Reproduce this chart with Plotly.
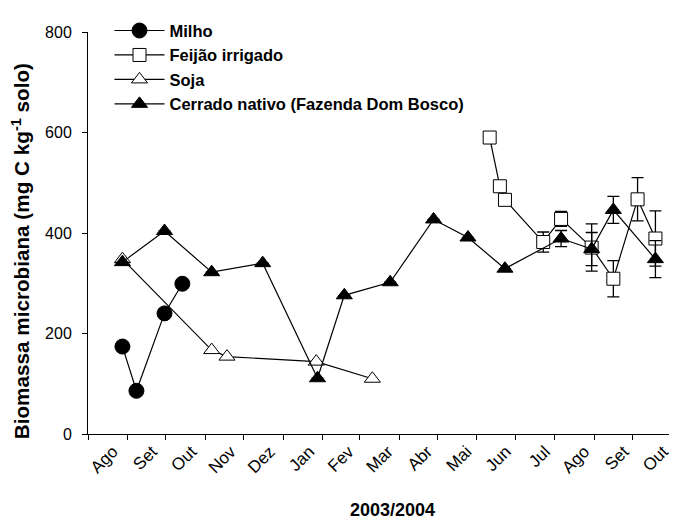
import plotly.graph_objects as go
import pandas as pd

# ---- data ----
milho_dates = ["2003-08-28", "2003-09-08", "2003-09-30", "2003-10-14"]
milho_vals = [174, 86, 240, 299]

feijao_dates = ["2004-06-11", "2004-06-19", "2004-06-23", "2004-07-23", "2004-08-06",
                "2004-08-30", "2004-09-16", "2004-10-05", "2004-10-19"]
feijao_vals = [590, 493, 466, 382, 428, 371, 309, 467, 389]
feijao_err = [None, None, None, 20, 15, 47, 36, 43, 55]

soja_dates = ["2003-08-28", "2003-11-06", "2003-11-18", "2004-01-27", "2004-03-11"]
soja_vals = [348, 167, 154, 144, 110]

cerrado_dates = ["2003-08-28", "2003-09-30", "2003-11-06", "2003-12-16", "2004-01-28",
                 "2004-02-18", "2004-03-25", "2004-04-28", "2004-05-25", "2004-06-23",
                 "2004-08-06", "2004-08-30", "2004-09-16", "2004-10-19"]
cerrado_vals = [342, 404, 322, 340, 111, 276, 302, 427, 391, 329, 389, 368, 446, 348]
cerrado_err = [None, None, None, None, None, None, None, None, None, None, 16, 33, 27, 37]

month_labels = ["Ago", "Set", "Out", "Nov", "Dez", "Jan", "Fev", "Mar", "Abr",
                "Mai", "Jun", "Jul", "Ago", "Set", "Out"]
y_ticks = [0, 200, 400, 600, 800]

# ---- axis helpers ----
month_starts = pd.date_range("2003-08-01", periods=len(month_labels) + 1, freq="MS")
# month labels are evenly spaced, slightly right of each month's middle
label_pos = list(pd.date_range(month_starts[0] + pd.Timedelta(days=19.5),
                               month_starts[-2] + pd.Timedelta(days=24),
                               periods=len(month_labels)))

FONT = "Liberation Sans, Arial, sans-serif"
line = dict(color="black", width=1.2)
err_style = dict(type="data", visible=True, color="black", thickness=1.3, width=6)

fig = go.Figure()
fig.add_trace(go.Scatter(
    x=milho_dates, y=milho_vals, name="Milho", mode="lines+markers", line=line,
    marker=dict(symbol="circle", size=15, color="black", line=dict(color="black", width=1))))
fig.add_trace(go.Scatter(
    x=feijao_dates, y=feijao_vals, name="Feijão irrigado", mode="lines+markers", line=line,
    error_y=dict(array=feijao_err, **err_style),
    marker=dict(symbol="square", size=13, color="white", line=dict(color="black", width=1))))
fig.add_trace(go.Scatter(
    x=soja_dates, y=soja_vals, name="Soja", mode="lines+markers", line=line,
    marker=dict(symbol="triangle-up", size=14, color="white", line=dict(color="black", width=1))))
fig.add_trace(go.Scatter(
    x=cerrado_dates, y=cerrado_vals, name="Cerrado nativo (Fazenda Dom Bosco)",
    mode="lines+markers", line=line,
    error_y=dict(array=cerrado_err, **err_style),
    marker=dict(symbol="triangle-up", size=14, color="black", line=dict(color="black", width=1))))

# page has an 8px body margin: figure is offset by (8, 8)
OFF = 8
W, H = 677 - OFF, 519 - OFF
PLOT_L, PLOT_R, PLOT_T, PLOT_B = 88, 672, 26, 434   # page pixels
L, R, T = PLOT_L - OFF, W + OFF - PLOT_R, PLOT_T - OFF
B = H - (PLOT_B - OFF)
pw = PLOT_R - PLOT_L
ph = PLOT_B - PLOT_T


def px(x):
    return (x - PLOT_L) / pw


def py(y):
    return (PLOT_B - y) / ph


fig.update_layout(
    width=W, height=H, autosize=False,
    margin=dict(l=L, r=R, t=T, b=B, pad=0),
    paper_bgcolor="white", plot_bgcolor="white",
    font=dict(family=FONT, color="black", size=16),
    showlegend=True,
    legend=dict(x=px(109.5), y=py(7), xanchor="left", yanchor="top",
                bgcolor="rgba(0,0,0,0)", font=dict(size=16.5, weight="bold"),
                itemwidth=50, tracegroupgap=0),
    xaxis=dict(
        type="date", range=[month_starts[0], month_starts[-1]],
        tickmode="array", tickvals=label_pos, ticktext=month_labels,
        ticks="", tickangle=-45, tickfont=dict(size=17),
        showline=True, linecolor="black", linewidth=1,
        showgrid=False, zeroline=False, automargin=False,
        minor=dict(tickmode="array", tickvals=list(month_starts), ticks="outside",
                   ticklen=5, tickcolor="black", tickwidth=1, showgrid=False),
    ),
    yaxis=dict(
        range=[0, 800], tickmode="array", tickvals=y_ticks,
        ticks="outside", ticklen=5, tickcolor="black", ticklabelstandoff=7,
        showline=True, linecolor="black", linewidth=1,
        showgrid=False, zeroline=False, tickfont=dict(size=16), automargin=False,
    ),
    annotations=[
        dict(text="Biomassa microbiana (mg C kg<sup>-1</sup> solo)", textangle=-90,
             xref="paper", yref="paper", x=px(21), y=py(248.5),
             xanchor="center", yanchor="middle", showarrow=False,
             font=dict(size=20.7, weight="bold")),
        dict(text="2003/2004", xref="paper", yref="paper",
             x=px(392.5), y=py(511.5),
             xanchor="center", yanchor="middle", showarrow=False,
             font=dict(size=18, weight="bold")),
    ],
)

fig.write_html("out.html")
